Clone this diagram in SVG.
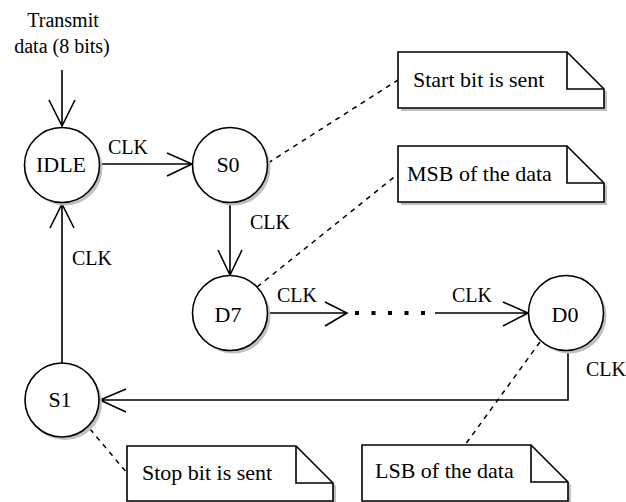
<svg xmlns="http://www.w3.org/2000/svg" width="626" height="502" viewBox="0 0 626 502">
<rect width="626" height="502" fill="#fff"/>

<g id="connectors" fill="none" stroke="#000" stroke-width="1.6">
<path d="M62,70 V126 M49,100 L62,126 L75,100"/>
<path d="M99,164 H192 M167,153 L192,164 L167,176"/>
<path d="M230,202 V275 M218,250 L230,275 L242,250"/>
<path d="M268,313 H347 M325,302 L347,313 L325,326"/>
<line x1="355" y1="313" x2="433" y2="313" stroke-width="4" stroke-dasharray="4 12.5"/>
<path d="M435,313 H528 M503,302 L528,313 L503,326"/>
<path d="M568,350 V400 H100 M126,389 L100,400 L126,412"/>
<path d="M62,363 V204 M50,228 L62,204 L74,228"/>
<g stroke-width="1.5" stroke-dasharray="5 5">
<line x1="268" y1="163" x2="398" y2="80"/>
<line x1="257" y1="287" x2="398" y2="174"/>
<line x1="540" y1="342" x2="465" y2="445"/>
<line x1="90" y1="429" x2="127" y2="473"/>
</g>
</g>
<g id="connector-labels">
<text x="128" y="154" font-family="Liberation Serif, serif" font-size="20" text-anchor="middle">CLK</text>
<text x="270" y="229" font-family="Liberation Serif, serif" font-size="20" text-anchor="middle">CLK</text>
<text x="92" y="265" font-family="Liberation Serif, serif" font-size="20" text-anchor="middle">CLK</text>
<text x="297" y="302" font-family="Liberation Serif, serif" font-size="20" text-anchor="middle">CLK</text>
<text x="472" y="302" font-family="Liberation Serif, serif" font-size="20" text-anchor="middle">CLK</text>
<text x="606" y="376" font-family="Liberation Serif, serif" font-size="20" text-anchor="middle">CLK</text>
</g>

<g id="input-label">
<text x="63" y="27" font-family="Liberation Serif, serif" font-size="20" text-anchor="middle">Transmit</text>
<text x="62" y="53" font-family="Liberation Serif, serif" font-size="20" text-anchor="middle">data (8 bits)</text>
</g>

<g id="IDLE">
<circle cx="65" cy="168" r="37.5" fill="#c0c0c0"/>
<circle cx="62" cy="165" r="37.5" fill="#fff" stroke="#000" stroke-width="1.6"/>
<text x="61" y="172" font-family="Liberation Serif, serif" font-size="22" text-anchor="middle">IDLE</text>
</g>
<g id="S0">
<circle cx="233" cy="168" r="37.5" fill="#c0c0c0"/>
<circle cx="230" cy="165" r="37.5" fill="#fff" stroke="#000" stroke-width="1.6"/>
<text x="228" y="172" font-family="Liberation Serif, serif" font-size="22" text-anchor="middle">S0</text>
</g>
<g id="D7">
<circle cx="233" cy="316" r="37.5" fill="#c0c0c0"/>
<circle cx="230" cy="313" r="37.5" fill="#fff" stroke="#000" stroke-width="1.6"/>
<text x="228" y="322" font-family="Liberation Serif, serif" font-size="22" text-anchor="middle">D7</text>
</g>
<g id="D0">
<circle cx="569" cy="316" r="37.5" fill="#c0c0c0"/>
<circle cx="566" cy="313" r="37.5" fill="#fff" stroke="#000" stroke-width="1.6"/>
<text x="565" y="322" font-family="Liberation Serif, serif" font-size="22" text-anchor="middle">D0</text>
</g>
<g id="S1">
<circle cx="65" cy="403" r="37" fill="#c0c0c0"/>
<circle cx="62" cy="400" r="37" fill="#fff" stroke="#000" stroke-width="1.6"/>
<text x="60" y="407" font-family="Liberation Serif, serif" font-size="22" text-anchor="middle">S1</text>
</g>

<g id="note-start">
<path d="M401,55 H570 L607,92 V111 H401 Z" fill="#c0c0c0"/>
<path d="M398,52 H567 L604,89 V108 H398 Z" fill="#fff" stroke="#000" stroke-width="1.6"/>
<path d="M567,52 V89 H604" fill="none" stroke="#000" stroke-width="1.6"/>
<text x="413" y="87" font-family="Liberation Serif, serif" font-size="22">Start bit is sent</text>
</g>
<g id="note-msb">
<path d="M401,149 H570 L607,186 V205 H401 Z" fill="#c0c0c0"/>
<path d="M398,146 H567 L604,183 V202 H398 Z" fill="#fff" stroke="#000" stroke-width="1.6"/>
<path d="M567,146 V183 H604" fill="none" stroke="#000" stroke-width="1.6"/>
<text x="407" y="181" font-family="Liberation Serif, serif" font-size="22">MSB of the data</text>
</g>
<g id="note-stop">
<path d="M130,449 H299 L336,486 V505 H130 Z" fill="#c0c0c0"/>
<path d="M127,446 H296 L333,483 V501 H127 Z" fill="#fff" stroke="#000" stroke-width="1.6"/>
<path d="M296,446 V483 H333" fill="none" stroke="#000" stroke-width="1.6"/>
<text x="142" y="480" font-family="Liberation Serif, serif" font-size="22">Stop bit is sent</text>
</g>
<g id="note-lsb">
<path d="M365,448 H534 L571,485 V505 H365 Z" fill="#c0c0c0"/>
<path d="M362,445 H531 L568,482 V501 H362 Z" fill="#fff" stroke="#000" stroke-width="1.6"/>
<path d="M531,445 V482 H568" fill="none" stroke="#000" stroke-width="1.6"/>
<text x="375" y="478" font-family="Liberation Serif, serif" font-size="22">LSB of the data</text>
</g>
</svg>
